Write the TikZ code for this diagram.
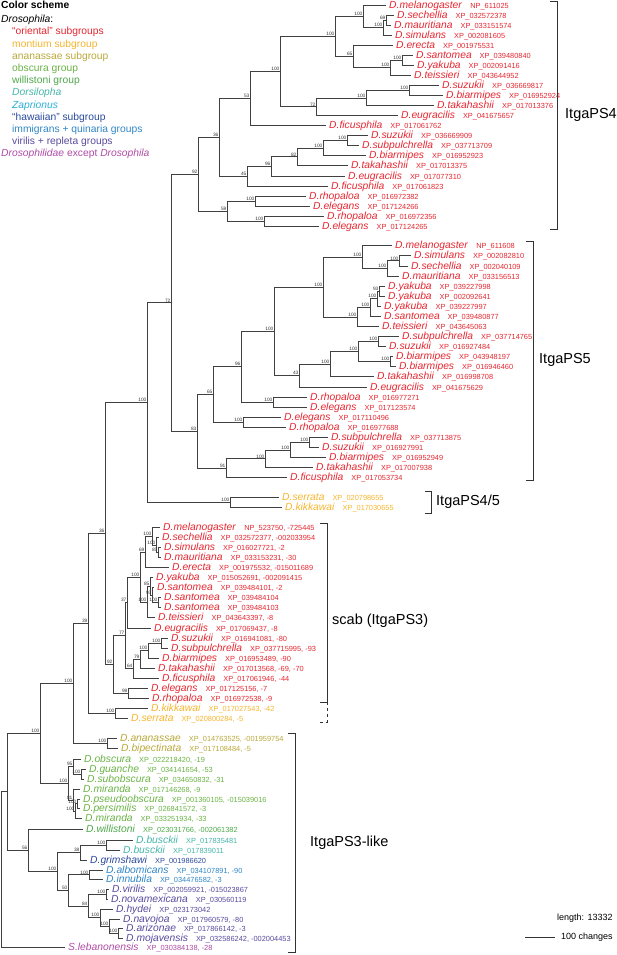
\documentclass[tikz,border=0pt]{standalone}
\usepackage{fontspec}
\setmainfont{Liberation Sans}
\definecolor{oriental}{HTML}{E52630}
\definecolor{montium}{HTML}{F5B52E}
\definecolor{ananassae}{HTML}{B9A83A}
\definecolor{obscura}{HTML}{6AB344}
\definecolor{willistoni}{HTML}{4FA84A}
\definecolor{dorsilopha}{HTML}{45B5AA}
\definecolor{zaprionus}{HTML}{2AAFD6}
\definecolor{hawaiian}{HTML}{2B4A9C}
\definecolor{immigrans}{HTML}{2F86C6}
\definecolor{virilis}{HTML}{584B9E}
\definecolor{outgroup}{HTML}{AE4AA6}
\tikzset{
    branch/.style={draw=black!75, line width=0.8pt},
    leaf/.style={anchor=west, inner xsep=3pt, inner ysep=0pt, text height=7.4pt, text depth=1pt, font=\fontsize{10.3}{11}\selectfont},
    ori/.style={leaf, text=oriental},
    mon/.style={leaf, text=montium},
    ana/.style={leaf, text=ananassae},
    obs/.style={leaf, text=obscura},
    wil/.style={leaf, text=willistoni},
    dor/.style={leaf, text=dorsilopha},
    haw/.style={leaf, text=hawaiian},
    imm/.style={leaf, text=immigrans},
    vir/.style={leaf, text=virilis},
    outg/.style={leaf, text=outgroup},
    bs/.style={anchor=south east, inner sep=0.4pt, font=\fontsize{4.8}{5}\selectfont, text=black!80},
    lg/.style={anchor=west, inner sep=0pt, font=\fontsize{10.3}{12}\selectfont},
    grp/.style={anchor=west, inner sep=0pt, font=\fontsize{14.5}{16}\selectfont},
    brk/.style={draw=black!80, line width=0.8pt}
}
\newcommand{\taxon}[2]{\textit{#1}\hspace{8pt}{\fontsize{7.4}{8}\selectfont #2}}

\begin{document}
\begin{tikzpicture}[x=1pt, y=-1pt]
\useasboundingbox (0,0) rectangle (617,955);

% colour legend
\node[lg] (cs) at (1,5) {\textbf{Color scheme}};
\node[lg] (dro) at (1,20) {\textit{Drosophila}:};
\node[lg, text=oriental] (k1) at (12,32.2) {“oriental” subgroups};
\node[lg, text=montium] (k2) at (12,44.4) {montium subgroup};
\node[lg, text=ananassae] (k3) at (12,56.6) {ananassae subgroup};
\node[lg, text=obscura] (k4) at (12,68.8) {obscura group};
\node[lg, text=willistoni] (k5) at (12,81) {willistoni group};
\node[lg, text=dorsilopha] (k6) at (12,93.2) {\textit{Dorsilopha}};
\node[lg, text=zaprionus] (k7) at (12,105.4) {\textit{Zaprionus}};
\node[lg, text=hawaiian] (k8) at (12,117.6) {“hawaiian” subgroup};
\node[lg, text=immigrans] (k9) at (12,129.8) {immigrans + quinaria groups};
\node[lg, text=virilis] (k10) at (12,142) {virilis + repleta groups};
\node[lg, text=outgroup] (k11) at (1,154.2) {\textit{Drosophilidae} except \textit{Drosophila}};

% ItgaPS4 leaves
\node[ori] (a1) at (386,5) {\taxon{D.melanogaster}{NP\_611025}};
\node[ori] (a2) at (394,15) {\taxon{D.sechellia}{XP\_032572378}};
\node[ori] (a3) at (391,25) {\taxon{D.mauritiana}{XP\_033151574}};
\node[ori] (a4) at (392,35) {\taxon{D.simulans}{XP\_002081605}};
\node[ori] (a5) at (393,45) {\taxon{D.erecta}{XP\_001975531}};
\node[ori] (a6) at (413,55) {\taxon{D.santomea}{XP\_039480840}};
\node[ori] (a7) at (414,65) {\taxon{D.yakuba}{XP\_002091416}};
\node[ori] (a8) at (411,75) {\taxon{D.teissieri}{XP\_043644952}};
\node[ori] (a9) at (439,85.5) {\taxon{D.suzukii}{XP\_036669817}};
\node[ori] (a10) at (443,95.5) {\taxon{D.biarmipes}{XP\_016952924}};
\node[ori] (a11) at (434,105.5) {\taxon{D.takahashii}{XP\_017013376}};
\node[ori] (a12) at (398,115.5) {\taxon{D.eugracilis}{XP\_041675657}};
\node[ori] (a13) at (326,125.5) {\taxon{D.ficusphila}{XP\_017061762}};
\node[ori] (a14) at (368,135.5) {\taxon{D.suzukii}{XP\_036669909}};
\node[ori] (a15) at (359,145.5) {\taxon{D.subpulchrella}{XP\_037713709}};
\node[ori] (a16) at (366,155.5) {\taxon{D.biarmipes}{XP\_016952923}};
\node[ori] (a17) at (348,165.5) {\taxon{D.takahashii}{XP\_017013375}};
\node[ori] (a18) at (345,176) {\taxon{D.eugracilis}{XP\_017077310}};
\node[ori] (a19) at (328,186) {\taxon{D.ficusphila}{XP\_017061823}};
\node[ori] (a20) at (306,196) {\taxon{D.rhopaloa}{XP\_016972382}};
\node[ori] (a21) at (310,206) {\taxon{D.elegans}{XP\_017124266}};
\node[ori] (a22) at (324,216) {\taxon{D.rhopaloa}{XP\_016972356}};
\node[ori] (a23) at (319,226) {\taxon{D.elegans}{XP\_017124265}};

% ItgaPS5 leaves
\node[ori] (b1) at (392,245.5) {\taxon{D.melanogaster}{NP\_611608}};
\node[ori] (b2) at (411,255.5) {\taxon{D.simulans}{XP\_002082810}};
\node[ori] (b3) at (408,266) {\taxon{D.sechellia}{XP\_002040109}};
\node[ori] (b4) at (399,276) {\taxon{D.mauritiana}{XP\_033156513}};
\node[ori] (b5) at (385,286) {\taxon{D.yakuba}{XP\_039227998}};
\node[ori] (b6) at (385,296) {\taxon{D.yakuba}{XP\_002092641}};
\node[ori] (b7) at (381,306) {\taxon{D.yakuba}{XP\_039227997}};
\node[ori] (b8) at (381,316.5) {\taxon{D.santomea}{XP\_039480877}};
\node[ori] (b9) at (379,326.5) {\taxon{D.teissieri}{XP\_043645063}};
\node[ori] (b10) at (399,336.5) {\taxon{D.subpulchrella}{XP\_037714765}};
\node[ori] (b11) at (386,346.5) {\taxon{D.suzukii}{XP\_016927484}};
\node[ori] (b12) at (393,356.5) {\taxon{D.biarmipes}{XP\_043948197}};
\node[ori] (b13) at (396,366.5) {\taxon{D.biarmipes}{XP\_016946460}};
\node[ori] (b14) at (374,376.5) {\taxon{D.takahashii}{XP\_016998708}};
\node[ori] (b15) at (367,387) {\taxon{D.eugracilis}{XP\_041675629}};
\node[ori] (b16) at (307,397) {\taxon{D.rhopaloa}{XP\_016977271}};
\node[ori] (b17) at (307,407) {\taxon{D.elegans}{XP\_017123574}};
\node[ori] (b18) at (281,417) {\taxon{D.elegans}{XP\_017110496}};
\node[ori] (b19) at (286,427) {\taxon{D.rhopaloa}{XP\_016977688}};
\node[ori] (b20) at (328,437) {\taxon{D.subpulchrella}{XP\_037713875}};
\node[ori] (b21) at (319,447.5) {\taxon{D.suzukii}{XP\_016927991}};
\node[ori] (b22) at (326,457.5) {\taxon{D.biarmipes}{XP\_016952949}};
\node[ori] (b23) at (313,467.5) {\taxon{D.takahashii}{XP\_017007938}};
\node[ori] (b24) at (287,477.5) {\taxon{D.ficusphila}{XP\_017053734}};

% ItgaPS4/5 leaves
\node[mon] (c1) at (279,497.3) {\taxon{D.serrata}{XP\_020798655}};
\node[mon] (c2) at (282,507.3) {\taxon{D.kikkawai}{XP\_017030655}};

% scab leaves
\node[ori] (d1) at (160,527.5) {\taxon{D.melanogaster}{NP\_523750, -725445}};
\node[ori] (d2) at (159,537.5) {\taxon{D.sechellia}{XP\_032572377, -002033954}};
\node[ori] (d3) at (161,547.5) {\taxon{D.simulans}{XP\_016027721, -2}};
\node[ori] (d4) at (161,557.5) {\taxon{D.mauritiana}{XP\_033153231, -30}};
\node[ori] (d5) at (169,567.5) {\taxon{D.erecta}{XP\_001975532, -015011689}};
\node[ori] (d6) at (153,577.5) {\taxon{D.yakuba}{XP\_015052691, -002091415}};
\node[ori] (d7) at (154,587.5) {\taxon{D.santomea}{XP\_039484101, -2}};
\node[ori] (d8) at (161,597.5) {\taxon{D.santomea}{XP\_039484104}};
\node[ori] (d9) at (161,607.5) {\taxon{D.santomea}{XP\_039484103}};
\node[ori] (d10) at (155,617.5) {\taxon{D.teissieri}{XP\_043643397, -8}};
\node[ori] (d11) at (151,628) {\taxon{D.eugracilis}{XP\_017069437, -8}};
\node[ori] (d12) at (168,638) {\taxon{D.suzukii}{XP\_016941081, -80}};
\node[ori] (d13) at (168,648) {\taxon{D.subpulchrella}{XP\_037715995, -93}};
\node[ori] (d14) at (159,658) {\taxon{D.biarmipes}{XP\_016953489, -90}};
\node[ori] (d15) at (155,668) {\taxon{D.takahashii}{XP\_017013568, -69, -70}};
\node[ori] (d16) at (159,678) {\taxon{D.ficusphila}{XP\_017061946, -44}};
\node[ori] (d17) at (148,688) {\taxon{D.elegans}{XP\_017125156, -7}};
\node[ori] (d18) at (149,698) {\taxon{D.rhopaloa}{XP\_016972538, -9}};
\node[mon] (d19) at (148,708) {\taxon{D.kikkawai}{XP\_017027543, -42}};
\node[mon] (d20) at (128,718) {\taxon{D.serrata}{XP\_020800284, -5}};

% ItgaPS3-like leaves
\node[ana] (e1) at (117,738.5) {\taxon{D.ananassae}{XP\_014763525, -001959754}};
\node[ana] (e2) at (118,748.5) {\taxon{D.bipectinata}{XP\_017108484, -5}};
\node[obs] (e3) at (81,759) {\taxon{D.obscura}{XP\_022218420, -19}};
\node[obs] (e4) at (86,769) {\taxon{D.guanche}{XP\_034141654, -53}};
\node[obs] (e5) at (84,779) {\taxon{D.subobscura}{XP\_034650832, -31}};
\node[obs] (e6) at (80,789) {\taxon{D.miranda}{XP\_017146268, -9}};
\node[obs] (e7) at (80,799) {\taxon{D.pseudoobscura}{XP\_001360105, -015039016}};
\node[obs] (e8) at (80,808.5) {\taxon{D.persimilis}{XP\_026841572, -3}};
\node[obs] (e9) at (82,818.5) {\taxon{D.miranda}{XP\_033251934, -33}};
\node[wil] (e10) at (83,829) {\taxon{D.willistoni}{XP\_023031766, -002061382}};
\node[dor] (e11) at (133,840) {\taxon{D.busckii}{XP\_017835481}};
\node[dor] (e12) at (120,850) {\taxon{D.busckii}{XP\_017839011}};
\node[haw] (e13) at (87,860) {\taxon{D.grimshawi}{XP\_001986620}};
\node[imm] (e14) at (103,870) {\taxon{D.albomicans}{XP\_034107891, -90}};
\node[imm] (e15) at (103,879.5) {\taxon{D.innubila}{XP\_034476582, -3}};
\node[vir] (e16) at (109,889.5) {\taxon{D.virilis}{XP\_002059921, -015023867}};
\node[vir] (e17) at (108,899) {\taxon{D.novamexicana}{XP\_030560119}};
\node[vir] (e18) at (113,909) {\taxon{D.hydei}{XP\_023173042}};
\node[vir] (e19) at (120,919) {\taxon{D.navojoa}{XP\_017960579, -80}};
\node[vir] (e20) at (123,928.5) {\taxon{D.arizonae}{XP\_017866142, -3}};
\node[vir] (e21) at (123,938.5) {\taxon{D.mojavensis}{XP\_032586242, -002004453}};
\node[outg] (e22) at (65,947) {\taxon{S.lebanonensis}{XP\_030384138, -28}};

% ItgaPS4 forks
\coordinate (ai1) at (386,20); \node[bs] at (ai1) {69};
\coordinate (ai2) at (383,27.5); \node[bs] at (ai2) {100};
\coordinate (ai3) at (363,16.25); \node[bs] at (ai3) {100};
\coordinate (ai4) at (402,60); \node[bs] at (ai4) {100};
\coordinate (ai5) at (390,67.5); \node[bs] at (ai5) {100};
\coordinate (ai6) at (353,56.25); \node[bs] at (ai6) {65};
\coordinate (ai7) at (335,36.25); \node[bs] at (ai7) {100};
\coordinate (ai8) at (409,90.5); \node[bs] at (ai8) {100};
\coordinate (ai9) at (366,98); \node[bs] at (ai9) {100};
\coordinate (ai10) at (316,106.75); \node[bs] at (ai10) {72};
\coordinate (ai11) at (280,71.5); \node[bs] at (ai11) {100};
\coordinate (ai12) at (250,98.5); \node[bs] at (ai12) {53};
\coordinate (ai13) at (347,140.5); \node[bs] at (ai13) {100};
\coordinate (ai14) at (323,148); \node[bs] at (ai14) {100};
\coordinate (ai15) at (297,156.75); \node[bs] at (ai15) {82};
\coordinate (ai16) at (271,166.4); \node[bs] at (ai16) {96};
\coordinate (ai17) at (247,176.2); \node[bs] at (ai17) {45};
\coordinate (ai18) at (219,137.35); \node[bs] at (ai18) {36};
\coordinate (ai19) at (255,201); \node[bs] at (ai19) {100};
\coordinate (ai20) at (264,221); \node[bs] at (ai20) {100};
\coordinate (ai21) at (227,211); \node[bs] at (ai21) {59};
\coordinate (ai22) at (198,174.2); \node[bs] at (ai22) {92};

% ItgaPS5 forks
\coordinate (bi1) at (399,260.75); \node[bs] at (bi1) {100};
\coordinate (bi2) at (387,268.4); \node[bs] at (bi2) {100};
\coordinate (bi3) at (362,256.95); \node[bs] at (bi3) {100};
\coordinate (bi4) at (379,291); \node[bs] at (bi4) {93};
\coordinate (bi5) at (377,298.5); \node[bs] at (bi5) {100};
\coordinate (bi6) at (370,307.5); \node[bs] at (bi6) {100};
\coordinate (bi7) at (357,317); \node[bs] at (bi7) {100};
\coordinate (bi8) at (323,287); \node[bs] at (bi8) {100};
\coordinate (bi9) at (378,341.5); \node[bs] at (bi9) {100};
\coordinate (bi10) at (390,361.5); \node[bs] at (bi10) {100};
\coordinate (bi11) at (358,351.5); \node[bs] at (bi11) {100};
\coordinate (bi12) at (330,364); \node[bs] at (bi12) {100};
\coordinate (bi13) at (299,375.5); \node[bs] at (bi13) {43};
\coordinate (bi14) at (274,331.25); \node[bs] at (bi14) {100};
\coordinate (bi15) at (273,402); \node[bs] at (bi15) {100};
\coordinate (bi16) at (241,366.6); \node[bs] at (bi16) {96};
\coordinate (bi17) at (243,422); \node[bs] at (bi17) {100};
\coordinate (bi18) at (213,394.3); \node[bs] at (bi18) {65};
\coordinate (bi19) at (309,442.25); \node[bs] at (bi19) {100};
\coordinate (bi20) at (290,449.9); \node[bs] at (bi20) {100};
\coordinate (bi21) at (265,458.7); \node[bs] at (bi21) {100};
\coordinate (bi22) at (226,468.1); \node[bs] at (bi22) {91};
\coordinate (bi23) at (197,431.2); \node[bs] at (bi23) {83};

% ItgaPS4/5 fork
\coordinate (ci1) at (230,502.3); \node[bs] at (ci1) {100};

% scab forks
\coordinate (di1) at (158,552.5); \node[bs] at (di1) {85};
\coordinate (di2) at (156,545); \node[bs] at (di2) {100};
\coordinate (di3) at (152,536.25); \node[bs] at (di3) {100};
\coordinate (di4) at (145,551.9); \node[bs] at (di4) {69};
\coordinate (di5) at (158,602.5); \node[bs] at (di5) {100};
\coordinate (di6) at (152,595); \node[bs] at (di6) {93};
\coordinate (di7) at (150,586.25); \node[bs] at (di7) {85};
\coordinate (di8) at (147,601.9); \node[bs] at (di8) {100};
\coordinate (di9) at (140,576.9); \node[bs] at (di9) {100};
\coordinate (di10) at (127,602.45); \node[bs] at (di10) {37};
\coordinate (di11) at (161,643); \node[bs] at (di11) {100};
\coordinate (di12) at (148,650.5); \node[bs] at (di12) {100};
\coordinate (di13) at (140,659.25); \node[bs] at (di13) {79};
\coordinate (di14) at (133,668.6); \node[bs] at (di14) {64};
\coordinate (di15) at (125,635.5); \node[bs] at (di15) {77};
\coordinate (di16) at (128,693); \node[bs] at (di16) {98};
\coordinate (di17) at (113,664.25); \node[bs] at (di17) {92};
\coordinate (di18) at (115,713); \node[bs] at (di18) {100};

% ItgaPS3-like forks
\coordinate (ei1) at (107,743.5); \node[bs] at (ei1) {100};
\coordinate (ei2) at (81,774); \node[bs] at (ei2) {100};
\coordinate (ei3) at (73,766.5); \node[bs] at (ei3) {95};
\coordinate (ei4) at (77,803.75); \node[bs] at (ei4) {100};
\coordinate (ei5) at (75,811.1); \node[bs] at (ei5) {100};
\coordinate (ei6) at (73,800.05); \node[bs] at (ei6) {81};
\coordinate (ei7) at (68,783.25); \node[bs] at (ei7) {100};
\coordinate (ei8) at (106,845); \node[bs] at (ei8) {100};
\coordinate (ei9) at (80,852.5); \node[bs] at (ei9) {38};
\coordinate (ei10) at (89,874.75); \node[bs] at (ei10) {100};
\coordinate (ei11) at (106,894.25); \node[bs] at (ei11) {100};
\coordinate (ei12) at (118,933.5); \node[bs] at (ei12) {100};
\coordinate (ei13) at (109,926.25); \node[bs] at (ei13) {100};
\coordinate (ei14) at (100,917.6); \node[bs] at (ei14) {100};
\coordinate (ei15) at (88,905.9); \node[bs] at (ei15) {84};
\coordinate (ei16) at (68,890.3); \node[bs] at (ei16) {50};
\coordinate (ei17) at (57,871.4); \node[bs] at (ei17) {100};
\coordinate (ei18) at (28,850.2); \node[bs] at (ei18) {56};

% deep forks
\coordinate (ti1) at (171,302.7); \node[bs] at (ti1) {72};
\coordinate (ti2) at (147,402.5); \node[bs] at (ti2) {100};
\coordinate (ti3) at (105,533.4); \node[bs] at (ti3) {36};
\coordinate (ti4) at (88,623.2); \node[bs] at (ti4) {39};
\coordinate (ti5) at (73,683.35); \node[bs] at (ti5) {100};
\coordinate (ti6) at (40,733.3); \node[bs] at (ti6) {100};
\coordinate (ti7) at (7,791.75);
\coordinate (root) at (1,869.4);

% branches
\draw[branch] (ai1) |- (a2) (ai1) |- (a3);
\draw[branch] (ai2) |- (ai1) (ai2) |- (a4);
\draw[branch] (ai3) |- (a1) (ai3) |- (ai2);
\draw[branch] (ai4) |- (a6) (ai4) |- (a7);
\draw[branch] (ai5) |- (ai4) (ai5) |- (a8);
\draw[branch] (ai6) |- (a5) (ai6) |- (ai5);
\draw[branch] (ai7) |- (ai3) (ai7) |- (ai6);
\draw[branch] (ai8) |- (a9) (ai8) |- (a10);
\draw[branch] (ai9) |- (ai8) (ai9) |- (a11);
\draw[branch] (ai10) |- (ai9) (ai10) |- (a12);
\draw[branch] (ai11) |- (ai7) (ai11) |- (ai10);
\draw[branch] (ai12) |- (ai11) (ai12) |- (a13);
\draw[branch] (ai13) |- (a14) (ai13) |- (a15);
\draw[branch] (ai14) |- (ai13) (ai14) |- (a16);
\draw[branch] (ai15) |- (ai14) (ai15) |- (a17);
\draw[branch] (ai16) |- (ai15) (ai16) |- (a18);
\draw[branch] (ai17) |- (ai16) (ai17) |- (a19);
\draw[branch] (ai18) |- (ai12) (ai18) |- (ai17);
\draw[branch] (ai19) |- (a20) (ai19) |- (a21);
\draw[branch] (ai20) |- (a22) (ai20) |- (a23);
\draw[branch] (ai21) |- (ai19) (ai21) |- (ai20);
\draw[branch] (ai22) |- (ai18) (ai22) |- (ai21);

\draw[branch] (bi1) |- (b2) (bi1) |- (b3);
\draw[branch] (bi2) |- (bi1) (bi2) |- (b4);
\draw[branch] (bi3) |- (b1) (bi3) |- (bi2);
\draw[branch] (bi4) |- (b5) (bi4) |- (b6);
\draw[branch] (bi5) |- (bi4) (bi5) |- (b7);
\draw[branch] (bi6) |- (bi5) (bi6) |- (b8);
\draw[branch] (bi7) |- (bi6) (bi7) |- (b9);
\draw[branch] (bi8) |- (bi3) (bi8) |- (bi7);
\draw[branch] (bi9) |- (b10) (bi9) |- (b11);
\draw[branch] (bi10) |- (b12) (bi10) |- (b13);
\draw[branch] (bi11) |- (bi9) (bi11) |- (bi10);
\draw[branch] (bi12) |- (bi11) (bi12) |- (b14);
\draw[branch] (bi13) |- (bi12) (bi13) |- (b15);
\draw[branch] (bi14) |- (bi8) (bi14) |- (bi13);
\draw[branch] (bi15) |- (b16) (bi15) |- (b17);
\draw[branch] (bi16) |- (bi14) (bi16) |- (bi15);
\draw[branch] (bi17) |- (b18) (bi17) |- (b19);
\draw[branch] (bi18) |- (bi16) (bi18) |- (bi17);
\draw[branch] (bi19) |- (b20) (bi19) |- (b21);
\draw[branch] (bi20) |- (bi19) (bi20) |- (b22);
\draw[branch] (bi21) |- (bi20) (bi21) |- (b23);
\draw[branch] (bi22) |- (bi21) (bi22) |- (b24);
\draw[branch] (bi23) |- (bi18) (bi23) |- (bi22);

\draw[branch] (ci1) |- (c1) (ci1) |- (c2);

\draw[branch] (di1) |- (d3) (di1) |- (d4);
\draw[branch] (di2) |- (d2) (di2) |- (di1);
\draw[branch] (di3) |- (d1) (di3) |- (di2);
\draw[branch] (di4) |- (di3) (di4) |- (d5);
\draw[branch] (di5) |- (d8) (di5) |- (d9);
\draw[branch] (di6) |- (d7) (di6) |- (di5);
\draw[branch] (di7) |- (d6) (di7) |- (di6);
\draw[branch] (di8) |- (di7) (di8) |- (d10);
\draw[branch] (di9) |- (di4) (di9) |- (di8);
\draw[branch] (di10) |- (di9) (di10) |- (d11);
\draw[branch] (di11) |- (d12) (di11) |- (d13);
\draw[branch] (di12) |- (di11) (di12) |- (d14);
\draw[branch] (di13) |- (di12) (di13) |- (d15);
\draw[branch] (di14) |- (di13) (di14) |- (d16);
\draw[branch] (di15) |- (di10) (di15) |- (di14);
\draw[branch] (di16) |- (d17) (di16) |- (d18);
\draw[branch] (di17) |- (di15) (di17) |- (di16);
\draw[branch] (di18) |- (d19) (di18) |- (d20);

\draw[branch] (ei1) |- (e1) (ei1) |- (e2);
\draw[branch] (ei2) |- (e4) (ei2) |- (e5);
\draw[branch] (ei3) |- (e3) (ei3) |- (ei2);
\draw[branch] (ei4) |- (e7) (ei4) |- (e8);
\draw[branch] (ei5) |- (ei4) (ei5) |- (e9);
\draw[branch] (ei6) |- (e6) (ei6) |- (ei5);
\draw[branch] (ei7) |- (ei3) (ei7) |- (ei6);
\draw[branch] (ei8) |- (e11) (ei8) |- (e12);
\draw[branch] (ei9) |- (ei8) (ei9) |- (e13);
\draw[branch] (ei10) |- (e14) (ei10) |- (e15);
\draw[branch] (ei11) |- (e16) (ei11) |- (e17);
\draw[branch] (ei12) |- (e20) (ei12) |- (e21);
\draw[branch] (ei13) |- (e19) (ei13) |- (ei12);
\draw[branch] (ei14) |- (e18) (ei14) |- (ei13);
\draw[branch] (ei15) |- (ei11) (ei15) |- (ei14);
\draw[branch] (ei16) |- (ei10) (ei16) |- (ei15);
\draw[branch] (ei17) |- (ei9) (ei17) |- (ei16);
\draw[branch] (ei18) |- (e10) (ei18) |- (ei17);

\draw[branch] (ti1) |- (ai22) (ti1) |- (bi23);
\draw[branch] (ti2) |- (ti1) (ti2) |- (ci1);
\draw[branch] (ti3) |- (ti2) (ti3) |- (di17);
\draw[branch] (ti4) |- (ti3) (ti4) |- (di18);
\draw[branch] (ti5) |- (ti4) (ti5) |- (ei1);
\draw[branch] (ti6) |- (ti5) (ti6) |- (ei7);
\draw[branch] (ti7) |- (ti6) (ti7) |- (ei18);
\draw[branch] (root) |- (ti7) (root) |- (e22);

% brackets and their names
\draw[brk] (550,1) -- (557,1) -- (557,229) -- (550,229);
\node[grp] (ps4) at (565,115) {ItgaPS4};
\draw[brk] (526,241) -- (533,241) -- (533,480) -- (526,480);
\node[grp] (ps5) at (539,360) {ItgaPS5};
\draw[brk] (425,491) -- (431,491) -- (431,513) -- (425,513);
\node[grp] (ps45) at (436,502) {ItgaPS4/5};
\draw[brk] (320,523) -- (327,523) -- (327,702) -- (320,702);
\draw[brk, dashed] (327,702) -- (327,722) -- (320,722);
\node[grp] (ps3) at (332,621) {scab (ItgaPS3)};
\draw[brk] (288,733) -- (295,733) -- (295,952) -- (288,952);
\node[grp] (ps3l) at (310,843) {ItgaPS3-like};

% scale
\node[lg, font=\fontsize{9}{10}\selectfont] (len) at (557,918) {length: 13332};
\coordinate (sb1) at (525,937);
\coordinate (sb2) at (555,937);
\draw[brk] (sb1) -- (sb2);
\node[lg, font=\fontsize{9}{10}\selectfont] (chg) at (561,937) {100 changes};

\end{tikzpicture}
\end{document}
